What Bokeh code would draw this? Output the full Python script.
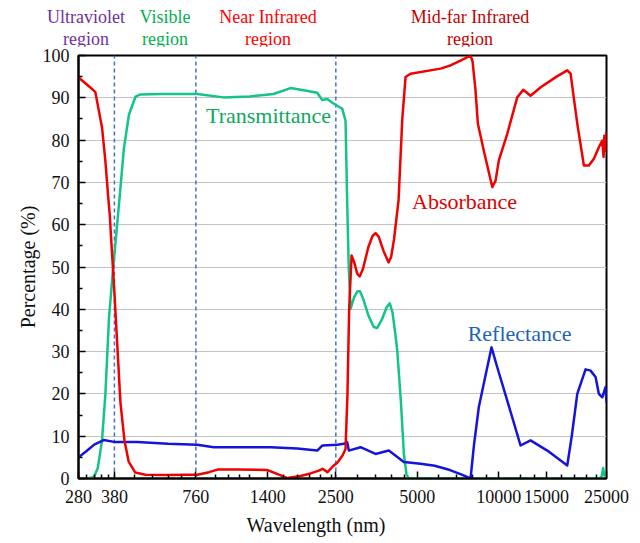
import math
from bokeh.plotting import figure
from bokeh.layouts import column
from bokeh.models import Range1d, FixedTicker, CustomJSTickFormatter, Label, Div
from bokeh.embed import file_html
from bokeh.resources import INLINE

# ---- spectra (wavelength in nm, percentage) ----
abs_wl = [280, 300, 323, 342, 352, 360, 365, 380, 400, 414, 429, 454, 495, 600, 700,
          770, 850, 913, 1100, 1398, 1500, 1657, 1850, 2015, 2150, 2233, 2329, 2440,
          2536, 2650, 2715, 2760, 2800, 2858, 2920, 3000, 3065, 3150, 3300, 3420, 3505,
          3600, 3750, 3913, 4000, 4100, 4262, 4400, 4524, 4720, 6092, 6600, 7223, 7864,
          8000, 8206, 8368, 8805, 9458, 9727, 10005, 10747, 11700, 12315, 13102, 14289,
          16347, 17906, 18417, 19498, 20626, 21517, 22453, 23430, 24116, 24385, 24550,
          24800, 25000]
abs_pct = [94.8, 93.2, 91.4, 83, 75, 67, 62.6, 44, 18, 9, 4, 1.4, 0.9, 0.8, 0.9,
           0.9, 1.5, 2.1, 2.1, 2.0, 1.2, 0.1, 0.6, 1.2, 1.8, 2.3, 1.5, 2.9,
           3.8, 5.5, 7, 20, 40, 52.7, 51.2, 48.4, 47.8, 49.6, 54.8, 57.4, 58,
           57.2, 53.8, 51.1, 52.3, 56.5, 65.7, 85, 94.9, 95.7, 96.9, 97.6, 98.8, 100,
           98.6, 91.7, 83.9, 77.5, 68.9, 70.4, 75.2, 81.5, 90.1, 91.9, 90.5, 92.5,
           95, 96.5, 95.7, 83.9, 74, 74, 75.6, 78.3, 79.9, 76, 81,
           77.5, 82]

tra_wl = [280, 300, 319, 330, 342, 352, 363, 374, 394, 412, 430, 455, 474, 562, 769,
          961, 1200, 1471, 1700, 1900, 2134, 2227, 2323, 2458, 2640, 2715, 2754, 2790,
          2833, 2920, 3000, 3065, 3150, 3300, 3450, 3556, 3700, 3850, 3957, 4050, 4150,
          4215, 4350, 4459, 4560, 4651, 10000, 23500, 24000, 24300, 24500, 25000]
tra_pct = [0, 0, 0.3, 2.5, 9, 20, 38, 48, 64, 78, 86, 90.3, 90.8, 90.9, 90.9,
           90.1, 90.3, 90.9, 92.3, 91.8, 91.2, 89.5, 89.7, 88.6, 87.4, 84.6, 65, 50,
           40.1, 42.8, 44.2, 44.3, 42.6, 38.5, 35.8, 35.6, 37.6, 40.5, 41.4, 39.2, 34,
           30.3, 18, 5.9, 1, 0, 0, 0, 0.5, 2.5, 0.8, 0.5]

ref_wl = [280, 300, 320, 347, 383, 461, 600, 769, 885, 1434, 1800, 2134, 2227, 2529,
          2676, 2754, 2792, 3084, 3505, 3923, 4459, 5140, 5800, 6600, 7300, 7864, 8100,
          8439, 9066, 9402, 9869, 10747, 12034, 13102, 15106, 17906, 18600, 19498, 20922,
          21831, 22782, 23430, 24116, 24800, 25000]
ref_pct = [5.0, 6.5, 8, 9.1, 8.6, 8.6, 8.2, 8.0, 7.4, 7.4, 7.1, 6.6, 7.8, 8.0,
           8.2, 8.6, 6.6, 7.4, 5.8, 6.6, 3.9, 3.5, 3.0, 2.0, 0.9, 0, 8,
           16.9, 26.3, 31, 26.3, 18.4, 7.8, 9.0, 6.6, 3.1, 10, 20, 25.8,
           25.5, 24, 20, 19.2, 21.6, 18]

# ---- axis ticks ----
x_ticks = [280, 380, 760, 1400, 2500, 5000, 10000, 15000, 25000]
x_minor = [300, 320, 340, 360, 450, 525, 600, 675, 900, 1000, 1100, 1200,
           1600, 1800, 2000, 2200, 2400, 3000, 3500, 4000, 4500, 6000, 7000,
           8000, 9000, 12000, 13500, 17000, 19000, 21000, 23000]
y_ticks = list(range(0, 101, 10))
y_minor = list(range(5, 100, 10))
region_bounds = [380, 760, 2500]

# ---- spectral region headers ----
region_line1 = ["Ultraviolet", "Visible", "Near Infrared", "Mid-far Infrared"]
region_line2 = ["region", "region", "region", "region"]
region_center = [300, 587, 1410, 7864]          # nm
region_color = ["#7030A0", "#00B050", "#FF0000", "#C00000"]

X_MIN, X_MAX = 280, 25000
Y_MIN, Y_MAX = 0, 100
FONT = "Liberation Serif"

W = 640
LEFT, RIGHT = 78, 34            # borders around the plotting box
FRAME_H = 423
HEAD_H, FOOT_H = 46, 31
TOP_PAD, BOTTOM_PAD = 9, 34
MAIN_H = TOP_PAD + FRAME_H + BOTTOM_PAD

# ---------------- main chart ----------------
p = figure(width=W, height=MAIN_H, x_axis_type="log",
           x_range=Range1d(X_MIN, X_MAX), y_range=Range1d(Y_MIN, Y_MAX),
           output_backend="svg", toolbar_location=None,
           min_border_left=LEFT, min_border_right=RIGHT,
           min_border_top=TOP_PAD, min_border_bottom=BOTTOM_PAD)

p.background_fill_color = "white"
p.border_fill_color = "white"
p.outline_line_color = "black"
p.outline_line_width = 2

p.xgrid.visible = False
p.ygrid.grid_line_color = "#C4C4C4"
p.ygrid.grid_line_width = 1
p.ygrid.ticker = FixedTicker(ticks=y_ticks)

p.xaxis.ticker = FixedTicker(ticks=x_ticks, minor_ticks=x_minor)
p.xaxis.formatter = CustomJSTickFormatter(code="return tick.toFixed(0)")
p.yaxis.ticker = FixedTicker(ticks=y_ticks, minor_ticks=y_minor)
p.yaxis.axis_label = "Percentage (%)"

for ax in (p.xaxis, p.yaxis):
    ax.axis_line_color = "black"
    ax.axis_line_width = 2
    ax.major_tick_in = 7
    ax.major_tick_out = 0
    ax.minor_tick_in = 4
    ax.minor_tick_out = 0
    ax.major_tick_line_color = "black"
    ax.major_tick_line_width = 1.5
    ax.minor_tick_line_color = "black"
    ax.minor_tick_line_width = 1.5
    ax.major_label_text_font = FONT
    ax.major_label_text_font_size = "18px"
    ax.major_label_text_color = "#111111"
    ax.axis_label_text_font = FONT
    ax.axis_label_text_font_size = "20px"
    ax.axis_label_text_font_style = "normal"
    ax.axis_label_text_color = "#111111"

p.xaxis.major_label_standoff = 11
p.yaxis.major_label_standoff = 9
p.yaxis.axis_label_standoff = 1

# region boundaries
p.segment(x0=region_bounds, y0=[Y_MIN] * 3, x1=region_bounds, y1=[Y_MAX] * 3,
          line_color="#4472C4", line_width=1.5, line_dash="4 3")

# spectra
p.line(tra_wl, tra_pct, line_color="#12C486", line_width=2.5, line_join="round")
p.line(ref_wl, ref_pct, line_color="#1414DC", line_width=2.5, line_join="round")
p.line(abs_wl, abs_pct, line_color="#F00000", line_width=2.5, line_join="round")

# curve names
curve_labels = [("Transmittance", 1410, 85.8, "#0EA85E"),
                ("Absorbance", 7472, 65.5, "#E00000"),
                ("Reflectance", 11930, 34.3, "#1E64B4")]
for txt, xw, yv, col in curve_labels:
    p.add_layout(Label(x=xw, y=yv, text=txt, text_color=col, text_font=FONT,
                       text_font_size="22px", text_align="center",
                       text_baseline="middle"))


# ---------------- region headers, placed on the chart's log wavelength scale ----------------
def wl_to_px(w):
    frac = math.log10(w / X_MIN) / math.log10(X_MAX / X_MIN)
    return LEFT + frac * (W - LEFT - RIGHT)


items = []
for l1, l2, wc, col in zip(region_line1, region_line2, region_center, region_color):
    items.append(
        f'<div style="position:absolute;left:{wl_to_px(wc):.1f}px;top:6px;'
        f'transform:translateX(-50%);text-align:center;white-space:nowrap;'
        f'color:{col};">{l1}<br>{l2}</div>')
head_html = (f'<div style="position:relative;width:{W}px;height:{HEAD_H}px;'
             f"font-family:'{FONT}';font-size:18px;line-height:22px;\">"
             + "".join(items) + "</div>")
head = Div(text=head_html, width=W, height=HEAD_H, margin=0)

# ---------------- x axis title ----------------
foot_html = (f'<div style="position:relative;width:{W}px;height:{FOOT_H}px;'
             f"font-family:'{FONT}';font-size:20px;line-height:24px;color:#111111;\">"
             f'<div style="position:absolute;left:316px;top:1px;transform:translateX(-50%);'
             f'white-space:nowrap;">Wavelength (nm)</div></div>')
foot = Div(text=foot_html, width=W, height=FOOT_H, margin=0)

layout = column(head, p, foot, spacing=0)
open("out.html", "w").write(file_html(layout, INLINE))
